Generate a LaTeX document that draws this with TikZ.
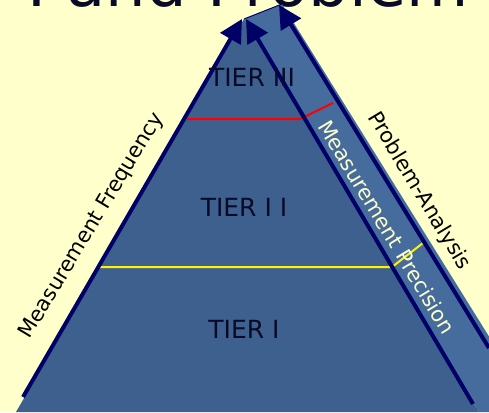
\documentclass[tikz,border=0pt]{standalone}
\usepackage{fontspec}
\setmainfont{DejaVu Sans}
\usetikzlibrary{positioning, calc, arrows.meta}
\definecolor{cream}{RGB}{255,255,204}
\definecolor{frontblue}{RGB}{62,96,142}
\definecolor{sideblue}{RGB}{70,108,158}
\definecolor{navyline}{RGB}{0,0,102}
\definecolor{tiertext}{RGB}{10,10,40}

\begin{document}
\begin{tikzpicture}[x=1pt,y=-1pt,
  edgearrow/.style={draw=navyline, line width=4pt, -{Triangle[length=23pt,width=23pt]}},
  tierlabel/.style={text=tiertext, font=\fontsize{25}{25}\selectfont, inner sep=0pt},
  sidelabel/.style={font=\fontsize{21}{21}\selectfont, inner sep=0pt},
  tierline/.style={line width=2pt}]
  \useasboundingbox[fill=cream] (0,0) rectangle (489,412);

  % title, cut by the top of the page
  \node[anchor=base east, inner sep=0pt, text=tiertext, font=\fontsize{64}{64}\selectfont] (title) at (469,7) {I and Problem};

  \coordinate (apex) at (244,19);
  \coordinate (ridge) at (282,4);
  \coordinate (leftbase) at (16,412);
  \coordinate (rightbase) at (479,412);
  \coordinate (sidebase) at (536,412);

  % faces
  \fill[sideblue] (apex) -- (ridge) -- (sidebase) -- (rightbase) -- cycle;
  \fill[frontblue] (apex) -- (rightbase) -- (leftbase) -- cycle;
  \draw[navyline, line width=1pt] (apex) -- (ridge);

  % tier borders
  \draw[tierline, red] (187,119) -- (300,119) -- (333,103);
  \draw[tierline, yellow] (97,267) -- (392,267) -- (423,243);

  % arrows along the edges
  \coordinate (freqstart) at (23,397);
  \coordinate (freqtip) at (242,19);
  \coordinate (precstart) at (473,404);
  \coordinate (prectip) at (246,19);
  \coordinate (probstart) at (489,348);
  \coordinate (probtip) at (279,5);
  \path
    (freqstart) edge[edgearrow] (freqtip)
    (precstart) edge[edgearrow] (prectip)
    (probstart) edge[edgearrow] (probtip);

  \node[tierlabel] (tier3) at (252,77) {TIER III};
  \node[tierlabel] (tier2) at (244,207) {TIER I I};
  \node[tierlabel] (tier1) at (244,329) {TIER I};

  \node[sidelabel, text=black, rotate=59] (freq) at (92,226) {Measurement Frequency};
  \node[sidelabel, text=cream, rotate=-59] (prec) at (387,227) {Measurement Precision};
  \node[sidelabel, text=black, rotate=-59] (prob) at (419,191) {Problem-Analysis};
\end{tikzpicture}
\end{document}
